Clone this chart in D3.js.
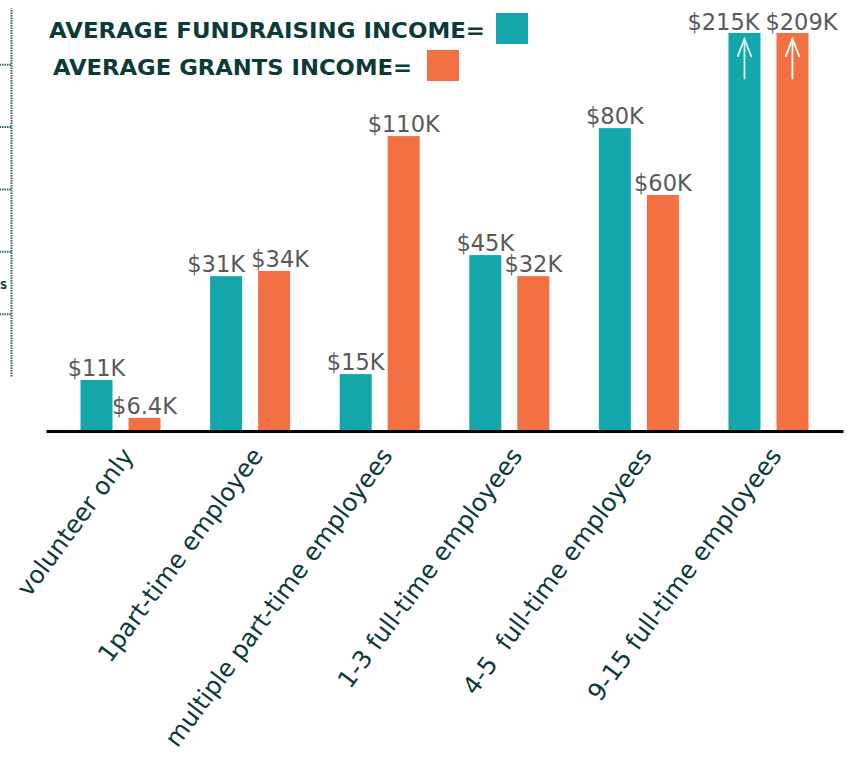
<!DOCTYPE html>
<html>
<head>
    <meta charset="utf-8" />
    <title>Average income by staff size</title>
    <script src="https://d3js.org/d3.v7.min.js"></script>
    <style>
        body { margin: 0; background: #fff; }
        svg { display: block; }
    </style>
</head>
<body>
<svg></svg>

<script>
    // categories and values
    const categories = ['volunteer only', '1part-time employee', 'multiple part-time employees',
        '1-3 full-time employees', '4-5  full-time employees', '9-15 full-time employees']
    const fundLabels = ['$11K', '$31K', '$15K', '$45K', '$80K', '$215K']
    const grantLabels = ['$6.4K', '$34K', '$110K', '$32K', '$60K', '$209K']
    // bar lengths as drawn in the picture (% of plot height, top bars run off the chart)
    const fundHeights = [12.8, 38.9, 14.3, 44.2, 76.1, 100]
    const grantHeights = [3.3, 40.2, 74.1, 38.9, 59.3, 100]
    const seriesKeys = ['fund', 'grant']
    const legendLabels = ['AVERAGE FUNDRAISING INCOME=', 'AVERAGE GRANTS INCOME=']

    const teal = '#13a6aa', orange = '#f37043', dark = '#0b3a39', grey = '#595959'

    const width = 849, height = 761
    const base = 431

    const svg = d3.select('svg')
        .attr('width', width)
        .attr('height', height)

    const data = categories.map((c, i) => ({
        cat: c,
        fund: fundHeights[i], grant: grantHeights[i],
        fundLabel: fundLabels[i], grantLabel: grantLabels[i]
    }))

    const x0 = d3.scaleBand()
        .domain(categories)
        .range([46, 843])
        .paddingInner(0.3)
        .paddingOuter(0.225)

    const bw = x0.bandwidth()
    const x1 = d3.scaleBand()
        .domain(seriesKeys)
        .range([bw / 2 - 40, bw / 2 + 40])
        .paddingInner(1 / 3)

    const yScale = d3.scaleLinear()
        .domain([0, 100])
        .range([base, 33])

    const color = d3.scaleOrdinal().domain(seriesKeys).range([teal, orange])

    // cropped dotted axis on the far left
    const leftScale = d3.scaleLinear().domain([0, 5.9]).range([376, 8])
    const leftAxis = svg.append('g')
        .attr('transform', 'translate(11,0)')
        .call(d3.axisLeft(leftScale).tickValues([1, 2, 3, 4, 5]).tickSize(11).tickSizeOuter(0).tickFormat(''))
    leftAxis.selectAll('path, line')
        .attr('stroke', '#2d6363')
        .attr('stroke-width', 2)
        .attr('stroke-dasharray', '1.5,1')
    svg.append('text')
        .attr('x', 0)
        .attr('y', 289)
        .attr('font-family', 'DejaVu Sans')
        .attr('font-weight', 'bold')
        .attr('font-size', 10)
        .attr('fill', dark)
        .text('S')

    // bars
    const groups = svg.append('g').selectAll('g')
        .data(data)
        .enter()
        .append('g')
        .attr('transform', d => `translate(${x0(d.cat)},0)`)

    // labels of bars with nearly equal height get pushed apart
    const pairs = d => {
        const close = Math.abs(d.fund - d.grant) < 5
        const last = d.cat === categories[categories.length - 1]
        const push = !close ? [0, 0] : (last ? [-21, 9] : [-10, 6])
        return seriesKeys.map((k, i) => ({
            key: k, value: d[k], label: d[k + 'Label'], shift: push[i], last: last
        }))
    }

    groups.selectAll('rect')
        .data(pairs)
        .enter()
        .append('rect')
        .attr('x', d => x1(d.key))
        .attr('y', d => yScale(d.value))
        .attr('width', x1.bandwidth())
        .attr('height', d => base - yScale(d.value))
        .attr('fill', d => color(d.key))

    groups.selectAll('text.val')
        .data(pairs)
        .enter()
        .append('text')
        .attr('class', 'val')
        .attr('x', d => x1(d.key) + x1.bandwidth() / 2 + d.shift)
        .attr('y', d => yScale(d.value) - (d.last ? 3 : 4))
        .attr('text-anchor', 'middle')
        .attr('font-family', 'DejaVu Sans')
        .attr('font-size', 22.5)
        .attr('fill', grey)
        .text(d => d.label)

    // arrows on bars that run off the chart
    const arrows = groups.selectAll('g.arrow')
        .data(d => seriesKeys.filter(k => d[k] >= 100).map(k => ({ key: k })))
        .enter()
        .append('g')
        .attr('class', 'arrow')
        .attr('transform', d => `translate(${x1(d.key) + x1.bandwidth() / 2},0)`)
        .attr('stroke', d => d.key === 'fund' ? '#dff3f3' : '#fff')
        .attr('stroke-width', 1.8)
        .attr('fill', 'none')
    arrows.append('line')
        .attr('x1', 0).attr('x2', 0)
        .attr('y1', yScale(88.4)).attr('y2', yScale(98.5))
    arrows.append('path')
        .attr('d', `M-7,${yScale(94)} L0,${yScale(98.5)} L7,${yScale(94)}`)

    // baseline and category labels
    const xAxis = svg.append('g')
        .attr('transform', `translate(0,${base})`)
        .call(d3.axisBottom(x0).tickSize(0).tickSizeOuter(0))
    xAxis.select('.domain')
        .attr('stroke', '#000')
        .attr('stroke-width', 3)
    xAxis.selectAll('text')
        .attr('x', 0)
        .attr('y', 0)
        .attr('dy', 0)
        .attr('transform', 'translate(14,25) rotate(-53.5)')
        .attr('text-anchor', 'end')
        .attr('font-family', 'DejaVu Sans')
        .attr('font-size', 24.5)
        .attr('fill', dark)
        .style('white-space', 'pre')

    // legend
    const legendX = [49, 53], legendY = [38, 75], legendLen = [436, 359]
    const legendBox = [[496, 13], [427, 50]]
    const legend = svg.append('g')
    legendLabels.forEach((t, i) => {
        legend.append('text')
            .attr('x', legendX[i])
            .attr('y', legendY[i])
            .attr('font-family', 'DejaVu Sans')
            .attr('font-weight', 'bold')
            .attr('font-size', 21.5)
            .attr('textLength', legendLen[i])
            .attr('lengthAdjust', 'spacingAndGlyphs')
            .attr('fill', dark)
            .text(t)
        legend.append('rect')
            .attr('x', legendBox[i][0])
            .attr('y', legendBox[i][1])
            .attr('width', 32)
            .attr('height', 31)
            .attr('fill', color(seriesKeys[i]))
    })
</script>
</body>
</html>
